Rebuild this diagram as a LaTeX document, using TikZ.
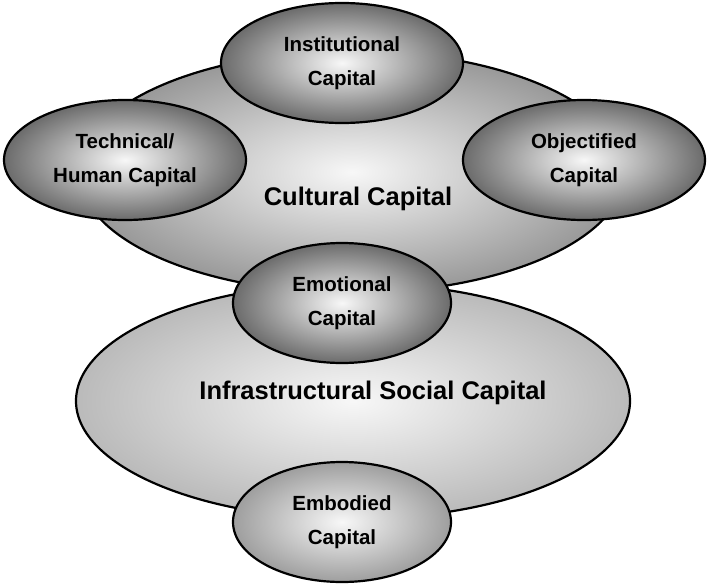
\documentclass[tikz,border=0pt]{standalone}
\usepackage{fontspec}
\setmainfont{Liberation Sans}
\usetikzlibrary{shapes.geometric}
\tikzset{
  capsmall/.style={ellipse, draw=black, line width=2.2pt, inner sep=0pt,
    shading=radial, inner color=black!3, outer color=black!58,
    minimum width=242pt, minimum height=120pt, align=center,
    font=\bfseries\fontsize{20.5}{34}\selectfont},
  capbig/.style={ellipse, draw=black, line width=2.2pt, inner sep=0pt,
    shading=radial, inner color=black!3, outer color=black!40},
  captext/.style={font=\bfseries\fontsize{25.5}{30}\selectfont}
}

\begin{document}
\begin{tikzpicture}[x=1pt, y=-1pt]
			%%%%% START %%%%%
			\useasboundingbox (0,0) rectangle (708,586);
			
			\node[capbig, minimum width=546pt, minimum height=242pt] (cultural) at (352,172) {};
			\node[capbig, outer color=black!27, minimum width=554pt, minimum height=236pt] (infra) at (353,401) {};
			\node[captext] (culturaltxt) at (358,199) {Cultural Capital};
			\node[captext] (infratxt) at (373,393) {Infrastructural Social Capital};
			
			\node[capsmall] (institutional) at (342,63) {Institutional\\Capital};
			\node[capsmall] (technical) at (125,160) {Technical/\\Human Capital};
			\node[capsmall] (objectified) at (584,160) {Objectified\\Capital};
			
			\node[capsmall, minimum width=218pt] (emotional) at (342,303) {Emotional\\Capital};
			\node[capsmall, minimum width=218pt, outer color=black!38] (embodied) at (342,522) {Embodied\\Capital};
			
			%%%%% END %%%%%
\end{tikzpicture}
\end{document}
